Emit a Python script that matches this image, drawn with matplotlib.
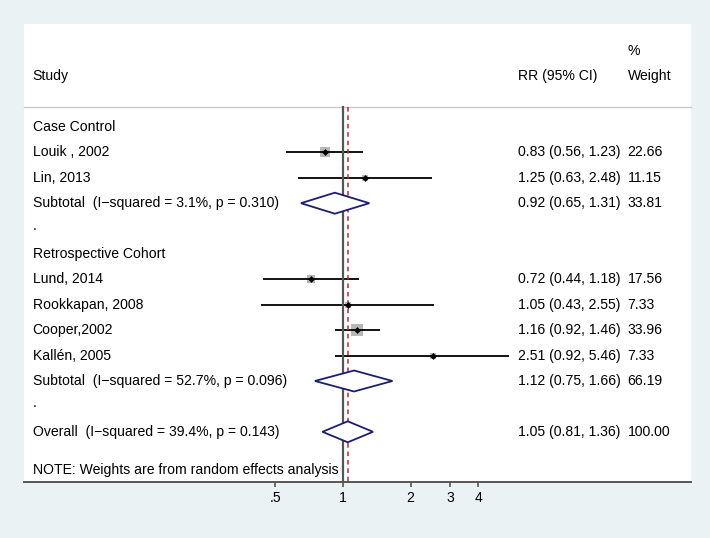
import math
import matplotlib
matplotlib.use("Agg")
import matplotlib.pyplot as plt
from matplotlib.patches import Polygon
from matplotlib.transforms import blended_transform_factory

# ---------------- data ----------------
group_names = ["Case Control", "Retrospective Cohort"]
studies = ["Louik , 2002", "Lin, 2013", "Lund, 2014", "Rookkapan, 2008",
           "Cooper,2002", "Kallén, 2005"]
study_group = [0, 0, 1, 1, 1, 1]
rr = [0.83, 1.25, 0.72, 1.05, 1.16, 2.51]
ci_lo = [0.56, 0.63, 0.44, 0.43, 0.92, 0.92]
ci_hi = [1.23, 2.48, 1.18, 2.55, 1.46, 5.46]
weights = [22.66, 11.15, 17.56, 7.33, 33.96, 7.33]

sub_rr = [0.92, 1.12]
sub_lo = [0.65, 0.75]
sub_hi = [1.31, 1.66]
sub_w = [33.81, 66.19]
sub_i2 = [3.1, 52.7]
sub_p = [0.310, 0.096]

ov_rr, ov_lo, ov_hi, ov_w = 1.05, 0.81, 1.36, 100.00
ov_i2, ov_p = 39.4, 0.143

xticks = [0.5, 1, 2, 3, 4]
xticklabels = [".5", "1", "2", "3", "4"]

# ---------------- figure ----------------
W, H, DPI = 710, 538, 100
BG = "#eaf2f3"
NAVY = "#1b1f72"
FS = 10.1
FONT = "Liberation Sans"
plt.rcParams["font.family"] = [FONT, "DejaVu Sans"]

fig = plt.figure(figsize=(W / DPI, H / DPI), dpi=DPI, facecolor=BG)

# panel in pixel coords
px_l, px_r, px_t, px_b = 24, 691, 24, 482
ax = fig.add_axes([px_l / W, 1 - px_b / H, (px_r - px_l) / W, (px_b - px_t) / H])
ax.set_facecolor("white")

# x mapping: x=1 at px 343, 97.6 px per ln unit
k = 97.6
x0 = 343
ax.set_xscale("log")
ax.set_xlim(math.exp((px_l - x0) / k), math.exp((px_r - x0) / k))

# y mapping: row 0 at px 127, 25.4 px per row
r0, dr = 127.0, 25.4
def row_of(px):
    return (px - r0) / dr
ax.set_ylim(row_of(px_b), row_of(px_t))

trans = blended_transform_factory(ax.transAxes, ax.transData)
def fx(px):
    return (px - px_l) / (px_r - px_l)

X_LAB, X_RR, X_W = fx(32.6), fx(517.5), fx(627.5)

def txt(x, y, s, **kw):
    ax.text(x, y, s, transform=trans, fontsize=FS, va="center", ha="left",
            color="black", **kw)

# headers
txt(X_LAB, row_of(76), "Study")
txt(X_RR, row_of(76), "RR (95% CI)")
txt(X_W, row_of(51), "%")
txt(X_W, row_of(76), "Weight")
y_hdr = row_of(107)
ax.plot([0, 1], [y_hdr, y_hdr], transform=trans, color="#c8c8c8", lw=1.0,
        clip_on=False)

def fmt(e, l, h):
    return f"{e:.2f} ({l:.2f}, {h:.2f})"

def diamond(y, e, l, h):
    hh = 10.5 / dr
    poly = Polygon([(l, y), (e, y - hh), (h, y), (e, y + hh)], closed=True,
                   facecolor="white", edgecolor=NAVY, lw=1.3, zorder=4)
    ax.add_patch(poly)

row = 0
for g, gname in enumerate(group_names):
    txt(X_LAB, row, gname)
    row += 1
    for i in range(len(studies)):
        if study_group[i] != g:
            continue
        txt(X_LAB, row, studies[i])
        ax.plot([ci_lo[i], ci_hi[i]], [row, row], color="black", lw=1.3,
                zorder=3, solid_capstyle="butt")
        ax.scatter([rr[i]], [row], s=2.265 * weights[i], marker="s",
                   color="#b7b7b7", zorder=2, linewidths=0)
        ax.scatter([rr[i]], [row], s=12, marker="D", color="black", zorder=5,
                   linewidths=0)
        txt(X_RR, row, fmt(rr[i], ci_lo[i], ci_hi[i]))
        txt(X_W, row, f"{weights[i]:.2f}")
        row += 1
    txt(X_LAB, row, f"Subtotal  (I\u2212squared = {sub_i2[g]:.1f}%, p = {sub_p[g]:.3f})")
    diamond(row, sub_rr[g], sub_lo[g], sub_hi[g])
    txt(X_RR, row, fmt(sub_rr[g], sub_lo[g], sub_hi[g]))
    txt(X_W, row, f"{sub_w[g]:.2f}")
    row += 1
    txt(X_LAB, row - 3.0 / dr, ".")
    row += 1

txt(X_LAB, row, f"Overall  (I\u2212squared = {ov_i2:.1f}%, p = {ov_p:.3f})")
diamond(row, ov_rr, ov_lo, ov_hi)
txt(X_RR, row, fmt(ov_rr, ov_lo, ov_hi))
txt(X_W, row, f"{ov_w:.2f}")
txt(X_LAB, row + 1.5, "NOTE: Weights are from random effects analysis")

# reference lines
ylo = row_of(px_b)
ax.plot([1, 1], [y_hdr, ylo], color="#555555", lw=1.6, zorder=3.5)
ax.plot([ov_rr, ov_rr], [y_hdr, ylo], color="#b22a3a", lw=1.1,
        ls=(0, (3, 2.5)), zorder=3.6)

# axes styling
for s in ["top", "left", "right"]:
    ax.spines[s].set_visible(False)
ax.spines["bottom"].set_color("#555555")
ax.spines["bottom"].set_linewidth(1.4)
ax.set_yticks([])
ax.set_xticks(xticks)
ax.set_xticklabels(xticklabels)
ax.minorticks_off()
ax.tick_params(axis="x", length=3.8, width=1.2, color="#555555",
               labelsize=FS, pad=2.5)

fig.savefig("out.png", dpi=DPI, facecolor=BG)
